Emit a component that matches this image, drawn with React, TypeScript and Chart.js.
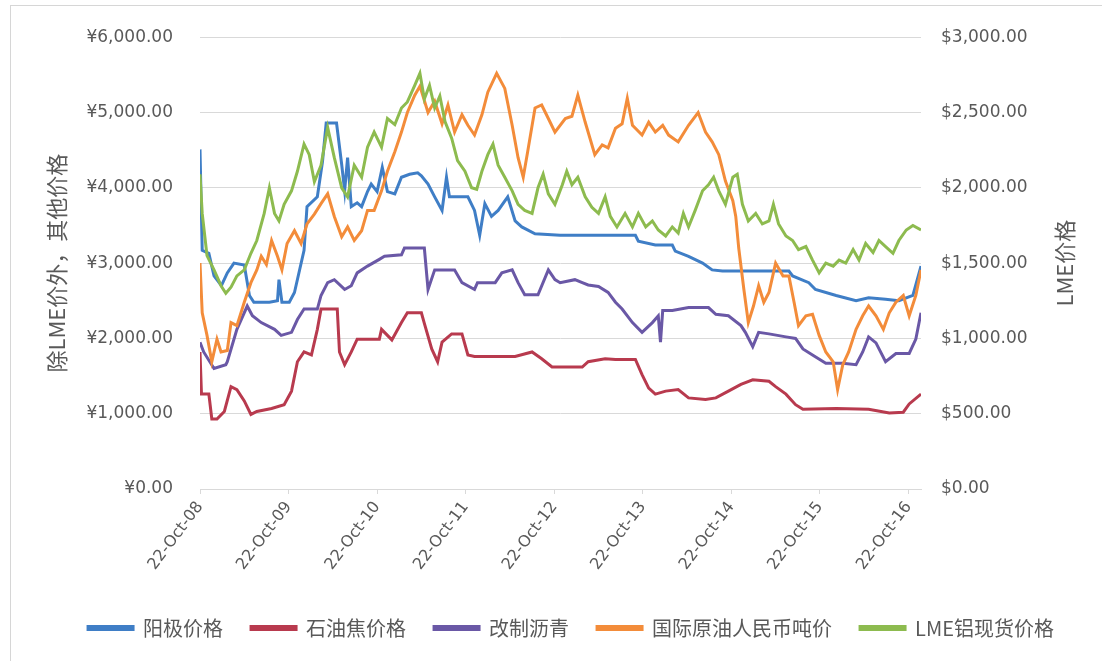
import React, { useEffect, useRef } from 'react';
import { Chart, registerables } from 'chart.js';

Chart.register(...registerables);

type Pt = [number, number];

// x = months since 22-Oct-2008
const xTickMonths = [0, 12, 24, 36, 48, 60, 72, 84, 96];
const xTickLabels = ['22-Oct-08', '22-Oct-09', '22-Oct-10', '22-Oct-11', '22-Oct-12', '22-Oct-13', '22-Oct-14', '22-Oct-15', '22-Oct-16'];
const seriesNames = ['阳极价格', '石油焦价格', '改制沥青', '国际原油人民币吨价', 'LME铝现货价格'];
const seriesColors = ['#3F7EC6', '#B83A4E', '#6A58A6', '#F38C3A', '#8DBB4F'];

const anodePrice: Pt[] = [
  [0, 4510], [0.3, 3170], [1.2, 3130], [1.9, 2830], [2.9, 2700], [3.7, 2870], [4.6, 3000], [6.0, 2975], [6.7, 2570], [7.3, 2480],
  [9.4, 2480], [10.5, 2500], [10.7, 2780], [11.1, 2480], [12.1, 2480], [12.8, 2610], [14.1, 3170], [14.5, 3750], [15.9, 3880], [16.6, 4350],
  [17.1, 4860], [18.5, 4860], [19.2, 4310], [19.6, 3960], [20.0, 4400], [20.5, 3750], [21.3, 3800], [21.9, 3750], [22.7, 3950], [23.2, 4050],
  [24.0, 3950], [24.7, 4270], [25.4, 3950], [26.4, 3920], [27.3, 4140], [28.4, 4180], [29.5, 4200], [30.0, 4160], [30.9, 4050], [31.8, 3880],
  [32.8, 3700], [33.4, 4140], [33.8, 3880], [35.2, 3880], [36.3, 3880], [37.2, 3700], [37.9, 3370], [38.6, 3790], [39.5, 3620], [40.4, 3700],
  [41.7, 3880], [42.7, 3560], [43.6, 3480], [45.4, 3390], [48.8, 3370], [59.0, 3370], [59.4, 3290], [61.7, 3240], [64.0, 3240], [64.4, 3160],
  [66.2, 3090], [68.1, 3000], [69.4, 2910], [70.8, 2895], [79.8, 2895], [80.3, 2830], [82.5, 2740], [83.4, 2650], [86.2, 2570], [88.9, 2500],
  [90.6, 2540], [92.9, 2520], [94.7, 2500], [96.6, 2570], [97.7, 2960],
];

const petCokePrice: Pt[] = [
  [0, 1820], [0.2, 1260], [1.2, 1260], [1.6, 930], [2.3, 930], [3.3, 1030], [4.2, 1360], [5.0, 1320], [6.0, 1170], [6.9, 990],
  [7.7, 1030], [9.7, 1070], [11.4, 1120], [12.4, 1300], [13.2, 1690], [14.1, 1820], [15.1, 1780], [15.9, 2120], [16.4, 2390], [18.6, 2390],
  [18.9, 1820], [19.6, 1650], [20.5, 1820], [21.3, 1990], [24.3, 1990], [24.6, 2120], [26.0, 1980], [27.3, 2210], [28.1, 2340], [30.0, 2340],
  [30.4, 2200], [31.4, 1860], [32.2, 1690], [32.8, 1950], [34.1, 2060], [35.5, 2060], [36.3, 1780], [37.2, 1760], [42.7, 1760], [45.0, 1820],
  [46.3, 1730], [47.7, 1620], [51.8, 1620], [52.6, 1690], [54.9, 1730], [56.3, 1720], [59.0, 1720], [59.9, 1520], [60.8, 1340], [61.7, 1260],
  [63.1, 1300], [64.8, 1320], [66.2, 1210], [68.5, 1190], [69.9, 1210], [71.6, 1300], [73.3, 1390], [74.9, 1450], [77.1, 1430], [78.0, 1360],
  [79.4, 1260], [80.7, 1120], [81.7, 1060], [86.2, 1070], [90.6, 1060], [93.4, 1010], [95.3, 1020], [96.1, 1130], [97.7, 1260],
];

const pitchPrice: Pt[] = [
  [0, 1950], [0.5, 1820], [1.9, 1600], [3.5, 1650], [3.7, 1690], [5.0, 2120], [6.4, 2430], [7.1, 2300], [8.3, 2210], [10.1, 2120],
  [11.0, 2040], [12.4, 2080], [13.2, 2250], [14.1, 2390], [15.9, 2390], [16.4, 2570], [17.3, 2740], [18.2, 2780], [19.6, 2650], [20.5, 2700],
  [21.3, 2870], [22.7, 2960], [24.3, 3050], [25.0, 3090], [27.3, 3110], [27.7, 3200], [30.4, 3200], [30.9, 2650], [31.8, 2910], [34.5, 2910],
  [35.5, 2740], [37.2, 2650], [37.6, 2740], [40.0, 2740], [40.9, 2870], [42.3, 2910], [43.1, 2740], [44.0, 2580], [45.8, 2580], [47.2, 2910],
  [48.1, 2780], [48.8, 2740], [50.8, 2780], [51.8, 2740], [52.6, 2710], [54.0, 2690], [55.3, 2610], [56.3, 2480], [57.2, 2390], [58.6, 2210],
  [59.9, 2080], [61.3, 2210], [62.1, 2300], [62.4, 1950], [62.7, 2370], [64.0, 2370], [66.2, 2410], [68.9, 2410], [69.9, 2320], [71.6, 2300],
  [73.3, 2170], [73.9, 2080], [74.9, 1890], [75.7, 2080], [77.1, 2060], [79.4, 2020], [80.7, 2000], [81.7, 1860], [83.0, 1780], [84.8, 1670],
  [87.1, 1670], [88.9, 1650], [89.8, 1820], [90.6, 2020], [91.6, 1940], [92.9, 1690], [94.3, 1800], [96.1, 1800], [97.0, 1990], [97.7, 2340],
];

const crudeRmbPrice: Pt[] = [
  [0, 3000], [0.3, 2340], [0.95, 2040], [1.6, 1690], [2.3, 1990], [2.85, 1820], [3.7, 1840], [4.2, 2210], [5.0, 2170], [6.0, 2480],
  [6.9, 2740], [7.7, 2910], [8.3, 3090], [9.0, 2980], [9.7, 3300], [10.5, 3090], [11.1, 2910], [11.8, 3260], [12.8, 3430], [13.7, 3260],
  [14.5, 3520], [15.5, 3650], [16.4, 3790], [17.3, 3920], [18.2, 3620], [19.2, 3350], [20.0, 3480], [20.9, 3300], [21.9, 3430], [22.7, 3700],
  [23.6, 3700], [24.6, 3960], [25.4, 4220], [26.4, 4480], [27.3, 4740], [28.1, 5000], [29.1, 5230], [29.8, 5350], [30.9, 5000], [31.8, 5150],
  [32.8, 4850], [33.6, 5100], [34.5, 4740], [35.5, 4970], [36.3, 4830], [37.2, 4700], [38.2, 4970], [39.0, 5270], [40.2, 5520], [41.3, 5320],
  [42.3, 4830], [43.1, 4400], [43.8, 4140], [44.4, 4480], [45.4, 5060], [46.3, 5100], [47.2, 4920], [48.1, 4740], [49.5, 4920], [50.4, 4950],
  [51.2, 5230], [52.2, 4870], [53.5, 4440], [54.5, 4570], [55.3, 4530], [56.3, 4790], [57.2, 4850], [57.9, 5190], [58.6, 4830], [59.9, 4700],
  [60.8, 4870], [61.7, 4740], [62.7, 4830], [63.5, 4700], [64.8, 4610], [66.2, 4830], [67.5, 5000], [68.5, 4740], [69.4, 4610], [70.3, 4440],
  [71.2, 4090], [72.2, 3830], [72.6, 3620], [73.0, 3200], [73.7, 2650], [74.3, 2210], [75.0, 2430], [75.7, 2700], [76.4, 2480], [77.1, 2610],
  [78.0, 3000], [79.0, 2830], [79.8, 2830], [80.5, 2480], [81.1, 2170], [82.1, 2300], [83.0, 2320], [83.9, 2040], [84.8, 1820], [85.8, 1690],
  [86.4, 1320], [87.1, 1650], [87.9, 1820], [88.9, 2120], [89.8, 2300], [90.6, 2430], [91.6, 2300], [92.6, 2120], [93.4, 2340], [94.3, 2480],
  [95.3, 2570], [96.1, 2300], [97.0, 2570], [97.7, 2910],
];

const lmeAluminumUsd: Pt[] = [
  [0, 2090], [0.3, 1830], [0.95, 1550], [1.9, 1455], [2.85, 1350], [3.5, 1300], [4.2, 1340], [5.0, 1415], [6.0, 1455], [6.9, 1565],
  [7.7, 1650], [8.7, 1830], [9.4, 2000], [10.1, 1830], [10.7, 1780], [11.4, 1890], [12.4, 1980], [13.2, 2110], [14.1, 2290], [14.8, 2220],
  [15.5, 2040], [16.4, 2150], [17.3, 2400], [18.2, 2200], [19.2, 2000], [20.0, 1940], [20.9, 2150], [21.9, 2070], [22.7, 2270], [23.6, 2370],
  [24.6, 2270], [25.4, 2460], [26.4, 2420], [27.3, 2530], [28.1, 2570], [29.1, 2680], [29.8, 2760], [30.4, 2590], [31.1, 2680], [31.8, 2530],
  [32.5, 2610], [33.2, 2440], [34.1, 2330], [34.9, 2180], [35.9, 2110], [36.8, 2000], [37.5, 1990], [38.2, 2110], [39.0, 2220], [39.7, 2290],
  [40.4, 2150], [41.3, 2070], [42.3, 1980], [43.1, 1890], [44.0, 1850], [45.0, 1830], [45.8, 2000], [46.5, 2090], [47.2, 1960], [48.1, 1890],
  [49.1, 2020], [49.7, 2110], [50.4, 2020], [51.2, 2070], [52.2, 1940], [53.1, 1870], [54.0, 1830], [54.9, 1940], [55.6, 1810], [56.5, 1740],
  [57.6, 1830], [58.6, 1740], [59.4, 1830], [60.4, 1740], [61.3, 1780], [62.1, 1720], [63.1, 1680], [64.0, 1740], [64.8, 1700], [65.5, 1830],
  [66.2, 1740], [67.1, 1850], [68.1, 1980], [68.9, 2020], [69.6, 2070], [70.3, 1980], [71.2, 1890], [72.2, 2070], [72.8, 2090], [73.5, 1890],
  [74.3, 1780], [75.3, 1830], [76.2, 1760], [77.1, 1780], [77.7, 1890], [78.4, 1760], [79.4, 1680], [80.3, 1650], [81.1, 1590], [82.1, 1610],
  [83.0, 1520], [83.9, 1435], [84.8, 1500], [85.8, 1480], [86.6, 1520], [87.5, 1500], [88.5, 1590], [89.3, 1520], [90.2, 1630], [91.2, 1570],
  [92.0, 1650], [92.9, 1610], [93.9, 1565], [94.7, 1650], [95.7, 1720], [96.6, 1750], [97.7, 1720],
];

const leftAxisTitle = '除LME价外，其他价格';
const rightAxisTitle = 'LME价格';

const TEXT = '#595959';
const GRID = '#D9D9D9';
const NUM_FONT = '"DejaVu Sans", sans-serif';
const CJK_FONT = '"Noto Sans CJK SC", sans-serif';

const money = (sym: string, v: number) =>
  sym + Number(v).toLocaleString('en-US', { minimumFractionDigits: 2, maximumFractionDigits: 2 });

const rightTitlePlugin = {
  id: 'rightTitle',
  afterDraw(chart: any) {
    const { ctx, chartArea } = chart;
    const s = chart.scales.y1;
    ctx.save();
    ctx.translate(s.right - 37, (chartArea.top + chartArea.bottom) / 2);
    ctx.rotate(-Math.PI / 2);
    ctx.font = '22px ' + CJK_FONT;
    ctx.fillStyle = TEXT;
    ctx.textAlign = 'center';
    ctx.textBaseline = 'middle';
    ctx.fillText(rightAxisTitle, 0, 0);
    ctx.restore();
  },
};

export default function App() {
  const ref = useRef<HTMLCanvasElement | null>(null);

  useEffect(() => {
    if (!ref.current) return;
    const allSeries = [anodePrice, petCokePrice, pitchPrice, crudeRmbPrice, lmeAluminumUsd];
    const datasets = allSeries.map((d, i) => ({
      label: seriesNames[i],
      data: d,
      borderColor: seriesColors[i],
      backgroundColor: seriesColors[i],
      borderWidth: 3,
      pointRadius: 0,
      tension: 0,
      yAxisID: i === 4 ? 'y1' : 'y',
      order: 5 - i,
    }));

    const chart = new Chart(ref.current, {
      type: 'line',
      data: { datasets } as any,
      plugins: [rightTitlePlugin],
      options: {
        animation: false,
        responsive: true,
        maintainAspectRatio: false,
        layout: { padding: { left: 40, right: 0, top: 31, bottom: 13 } },
        plugins: {
          tooltip: { enabled: false },
          legend: {
            position: 'bottom',
            labels: {
              boxWidth: 45,
              boxHeight: 3,
              padding: 28,
              color: TEXT,
              font: { family: CJK_FONT, size: 20 },
              sort: (a: any, b: any) => a.datasetIndex - b.datasetIndex,
            },
          },
        },
        scales: {
          x: {
            type: 'linear',
            min: 0,
            max: 97.7,
            afterBuildTicks: (scale: any) => {
              scale.ticks = xTickMonths.map((v) => ({ value: v }));
            },
            afterFit: (scale: any) => {
              scale.height = 101;
            },
            ticks: {
              autoSkip: false,
              minRotation: 53,
              maxRotation: 53,
              padding: 4,
              color: TEXT,
              font: { family: NUM_FONT, size: 16 },
              callback: (v: any) => {
                const i = xTickMonths.indexOf(Number(v));
                return i >= 0 ? xTickLabels[i] : '';
              },
            },
            grid: { drawOnChartArea: false, drawTicks: true, tickLength: 5, color: GRID },
            border: { display: true, color: GRID },
          },
          y: {
            type: 'linear',
            position: 'left',
            min: 0,
            max: 6000,
            afterFit: (scale: any) => {
              scale.width = 160;
            },
            ticks: {
              stepSize: 1000,
              padding: 27,
              color: TEXT,
              font: { family: NUM_FONT, size: 17 },
              callback: (v: any) => money('¥', v),
            },
            grid: { color: GRID, drawTicks: false },
            border: { display: false },
            title: {
              display: true,
              text: leftAxisTitle,
              color: TEXT,
              font: { family: CJK_FONT, size: 22 },
              padding: { top: 3, bottom: 0 },
            },
          },
          y1: {
            type: 'linear',
            position: 'right',
            min: 0,
            max: 3000,
            afterFit: (scale: any) => {
              scale.width = 181;
            },
            ticks: {
              stepSize: 500,
              padding: 20,
              color: TEXT,
              font: { family: NUM_FONT, size: 17 },
              callback: (v: any) => money('$', v),
            },
            grid: { display: false, drawTicks: false },
            border: { display: false },
          },
        },
      } as any,
    });
    return () => chart.destroy();
  }, []);

  return (
    <div style={{ position: 'absolute', left: 0, top: 0, width: 1102, height: 661, background: '#fff' }}>
      <div
        style={{
          position: 'absolute',
          left: 10,
          top: 5,
          right: 0,
          bottom: 0,
          borderLeft: '1px solid #D6D6D6',
          borderTop: '1px solid #D6D6D6',
          pointerEvents: 'none',
        }}
      />
      <canvas ref={ref} />
    </div>
  );
}
